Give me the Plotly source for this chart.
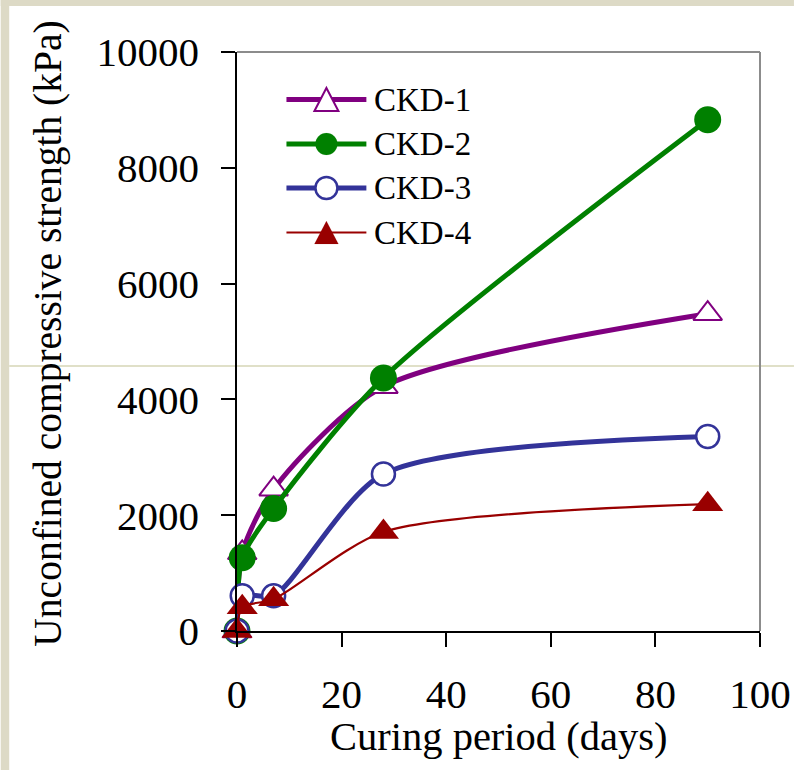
import plotly.graph_objects as go

# ---------------- data ----------------
days = [0, 1, 7, 28, 90]
ckd1 = [0, 1350, 2450, 4220, 5480]
ckd2 = [0, 1265, 2115, 4370, 8830]
ckd3 = [0, 610, 610, 2710, 3360]
ckd4 = [0, 410, 550, 1710, 2190]
series_names = ["CKD-1", "CKD-2", "CKD-3", "CKD-4"]
x_ticks = [0, 20, 40, 60, 80, 100]
y_ticks = [0, 2000, 4000, 6000, 8000, 10000]
x_title = "Curing period (days)"
y_title = "Unconfined compressive strength (kPa)"

# ---------------- geometry helpers ----------------
W, H = 794, 770
L, R, T, B = 236.5, 34, 52, 139
PW = W - L - R
PH = H - T - B


def px(x):
    return (x - L) / PW


def py(y):
    return (H - B - y) / PH


FONT = "'Liberation Serif', 'Times New Roman', serif"
CREAM = "#DDDAC6"

styles = [
    dict(color="#800080", width=5, symbol="triangle-up", size=25, fill="white", lw=2),
    dict(color="#008000", width=5, symbol="circle", size=27, fill="#008000", lw=0),
    dict(color="#333399", width=5, symbol="circle", size=23, fill="white", lw=2.5),
    dict(color="#990000", width=2.2, symbol="triangle-up", size=27, fill="#990000", lw=0),
]
values = [ckd1, ckd2, ckd3, ckd4]

fig = go.Figure()
for name, vals, st in zip(series_names, values, styles):
    fig.add_trace(go.Scatter(
        x=days, y=vals, name=name, mode="lines+markers",
        line=dict(color=st["color"], width=st["width"], shape="spline", smoothing=0.75),
        marker=dict(symbol=st["symbol"], size=st["size"], color=st["fill"],
                    line=dict(color=st["color"], width=st["lw"])),
        cliponaxis=False, showlegend=False,
    ))

shapes = []
# slide background strips and decorative line
shapes.append(dict(type="rect", xref="paper", yref="paper", layer="below",
                   x0=px(0), x1=px(8.5), y0=py(H), y1=py(0),
                   fillcolor=CREAM, line=dict(width=0)))
shapes.append(dict(type="rect", xref="paper", yref="paper", layer="below",
                   x0=px(0), x1=px(W), y0=py(6), y1=py(0),
                   fillcolor=CREAM, line=dict(width=0)))
shapes.append(dict(type="line", xref="paper", yref="paper", layer="below",
                   x0=px(8.5), x1=px(W), y0=py(366), y1=py(366),
                   line=dict(color="rgb(214,214,182)", width=1.5)))
# grey top / right frame
shapes.append(dict(type="line", xref="x domain", yref="y domain", layer="below",
                   x0=0, x1=1, y0=1, y1=1, line=dict(color="#8C8C8C", width=2)))
shapes.append(dict(type="line", xref="x domain", yref="y domain", layer="below",
                   x0=1, x1=1, y0=0, y1=1, line=dict(color="#8C8C8C", width=2)))

# manual legend (keys drawn as shapes, labels as text)
legend_rows = [99.5, 144, 188, 232.5]
key_x0, key_x1, key_xm, label_x = 286, 366, 326, 372
annotations = []
for name, st, ry in zip(series_names, styles, legend_rows):
    shapes.append(dict(type="line", xref="paper", yref="paper",
                       x0=px(key_x0), x1=px(key_x1), y0=py(ry), y1=py(ry),
                       line=dict(color=st["color"], width=st["width"])))
    if st["symbol"] == "circle":
        shapes.append(dict(type="circle", xref="paper", yref="paper",
                           xsizemode="pixel", ysizemode="pixel",
                           xanchor=px(key_xm), yanchor=py(ry),
                           x0=-11, x1=11, y0=-11, y1=11,
                           fillcolor=st["fill"],
                           line=dict(color=st["color"], width=max(st["lw"], 0.1))))
    else:
        shapes.append(dict(type="path", xref="paper", yref="paper",
                           xsizemode="pixel", ysizemode="pixel",
                           xanchor=px(key_xm), yanchor=py(ry),
                           path="M -12,-11.5 L 12,-11.5 L 0,11.5 Z",
                           fillcolor=st["fill"],
                           line=dict(color=st["color"], width=max(st["lw"], 0.1))))
    annotations.append(dict(text=name, xref="paper", yref="paper",
                            x=px(label_x), y=py(ry), xanchor="left", yanchor="middle",
                            showarrow=False, font=dict(family=FONT, size=33, color="black")))

# axis titles
annotations.append(dict(text=x_title, xref="paper", yref="paper",
                        x=0.5, y=py(736), xanchor="center", yanchor="middle",
                        showarrow=False, font=dict(family=FONT, size=40.5, color="black")))
annotations.append(dict(text=y_title, xref="paper", yref="paper", textangle=-90,
                        x=px(47), y=py(649), xanchor="center", yanchor="bottom",
                        showarrow=False, font=dict(family=FONT, size=39.5, color="black")))

fig.update_layout(
    width=W, height=H,
    margin=dict(l=L, r=R, t=T, b=B, pad=0, autoexpand=False),
    paper_bgcolor="white", plot_bgcolor="rgba(0,0,0,0)",
    font=dict(family=FONT, color="black"),
    shapes=shapes, annotations=annotations,
    showlegend=False,
)
fig.update_xaxes(range=[0, 100], tickvals=x_ticks, ticktext=[str(v) for v in x_ticks],
                 ticks="outside", ticklen=14, tickwidth=1.5, tickcolor="black",
                 showline=True, linecolor="black", linewidth=2,
                 showgrid=False, zeroline=False, automargin=False,
                 tickfont=dict(family=FONT, size=41, color="black"),
                 ticklabelstandoff=12)
fig.update_yaxes(range=[0, 10000], tickvals=y_ticks, ticktext=[str(v) for v in y_ticks],
                 ticks="outside", ticklen=14, tickwidth=1.5, tickcolor="black",
                 showline=True, linecolor="black", linewidth=1.5,
                 showgrid=False, zeroline=False, automargin=False,
                 tickfont=dict(family=FONT, size=41, color="black"),
                 ticklabelstandoff=14)

fig.write_html("out.html")
